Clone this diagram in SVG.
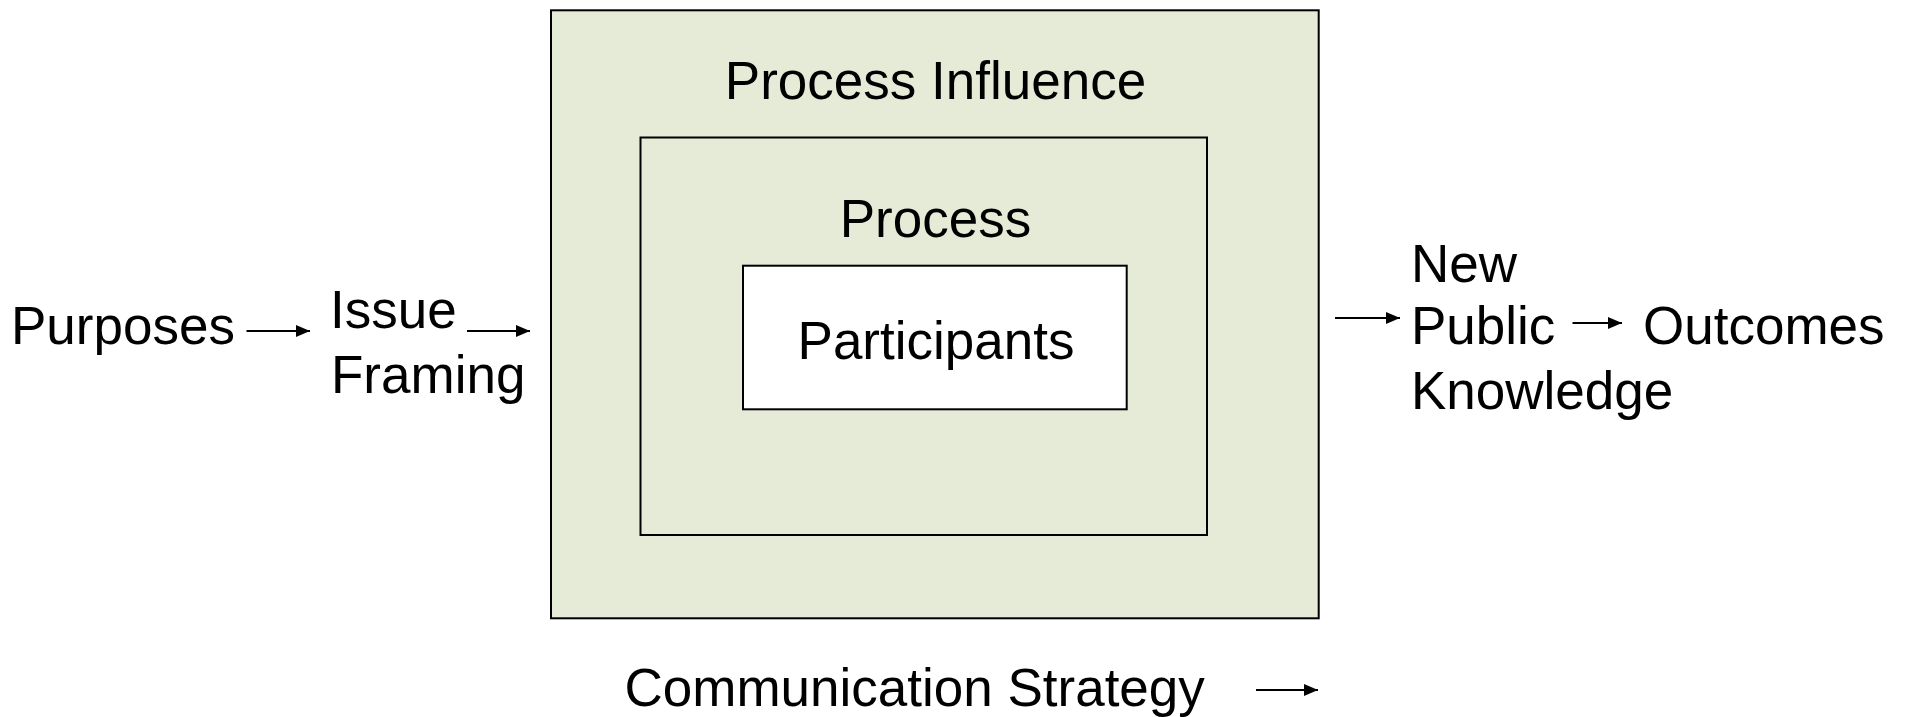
<svg xmlns="http://www.w3.org/2000/svg" width="1908" height="717" viewBox="0 0 1908 717">
<style>
.t{font-family:"Liberation Sans",Arial,sans-serif;font-size:53px;fill:#000}
.m{text-anchor:middle}
.box{stroke:#000;stroke-width:2}
.c{stroke:#000;stroke-width:2;fill:none}
</style>
<defs>
<marker id="ah" markerWidth="14" markerHeight="12" refX="14" refY="6" orient="auto" markerUnits="userSpaceOnUse">
<path d="M0,0 L14,6 L0,12 Z" fill="#000"/>
</marker>
</defs>
<rect width="1908" height="717" fill="#fff"/>
<g id="process-influence">
<rect class="box" x="551" y="10.3" width="767.7" height="608" fill="#E6EBD7"/>
<text class="t m" x="935.5" y="99">Process Influence</text>
</g>
<g id="process">
<rect class="box" x="640.5" y="137.5" width="566.5" height="397.5" fill="#E6EBD7"/>
<text class="t m" x="935.5" y="237">Process</text>
</g>
<g id="participants">
<rect class="box" x="743" y="265.7" width="383.7" height="143.6" fill="#fff"/>
<text class="t m" x="936" y="359">Participants</text>
</g>
<g id="purposes"><text class="t" x="11" y="344">Purposes</text></g>
<g id="issue-framing"><text class="t" x="330" y="328">Issue</text><text class="t" x="331" y="393">Framing</text></g>
<g id="new-public-knowledge"><text class="t" x="1411" y="281.5">New</text><text class="t" x="1411" y="343.5">Public</text><text class="t" x="1411" y="408.5">Knowledge</text></g>
<g id="outcomes"><text class="t" x="1643" y="344">Outcomes</text></g>
<g id="communication-strategy"><text class="t" x="624.5" y="706">Communication Strategy</text></g>
<g id="connectors">
<line class="c" x1="246.5" y1="331" x2="310" y2="331" marker-end="url(#ah)"/>
<line class="c" x1="467" y1="331" x2="530" y2="331" marker-end="url(#ah)"/>
<line class="c" x1="1335" y1="318" x2="1400" y2="318" marker-end="url(#ah)"/>
<line class="c" x1="1572.5" y1="323" x2="1622" y2="323" marker-end="url(#ah)"/>
<line class="c" x1="1256" y1="690" x2="1318" y2="690" marker-end="url(#ah)"/>
</g>
</svg>
